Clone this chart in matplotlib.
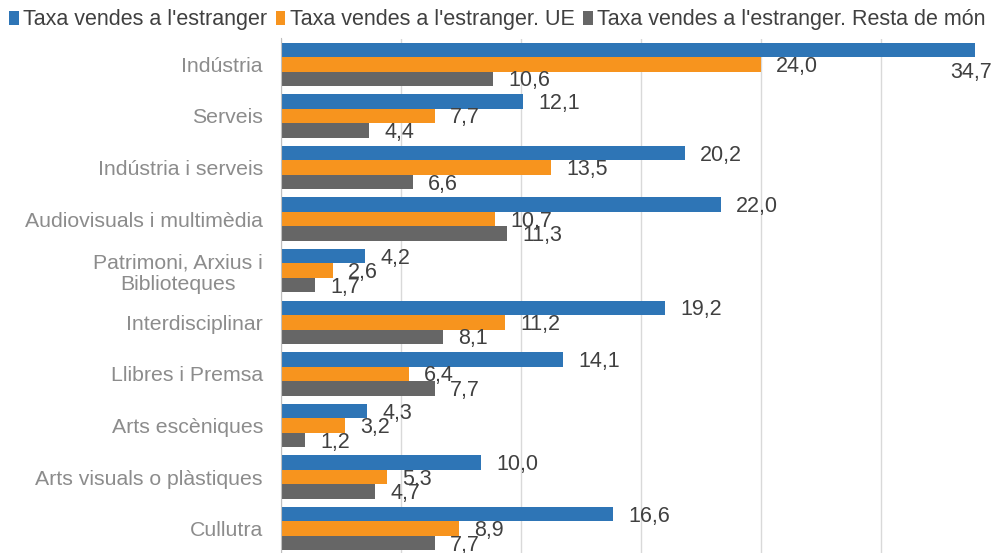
import matplotlib
matplotlib.use("Agg")
import matplotlib.pyplot as plt
from matplotlib.patches import Patch
import numpy as np

categories = ["Indústria", "Serveis", "Indústria i serveis", "Audiovisuals i multimèdia",
              "Patrimoni, Arxius i\nBiblioteques", "Interdisciplinar", "Llibres i Premsa",
              "Arts escèniques", "Arts visuals o plàstiques", "Cullutra"]
series_names = ["Taxa vendes a l'estranger", "Taxa vendes a l'estranger. UE",
                "Taxa vendes a l'estranger. Resta de món"]
total = [34.7, 12.1, 20.2, 22.0, 4.2, 19.2, 14.1, 4.3, 10.0, 16.6]
ue = [24.0, 7.7, 13.5, 10.7, 2.6, 11.2, 6.4, 3.2, 5.3, 8.9]
resta = [10.6, 4.4, 6.6, 11.3, 1.7, 8.1, 7.7, 1.2, 4.7, 7.7]
colors = ["#2E75B6", "#F7941E", "#666666"]

plt.rcParams['font.family'] = ['Liberation Sans', 'DejaVu Sans']
fs = 15.5
fs_cat = 15.3

fig = plt.figure(figsize=(9.92, 5.53), dpi=100)
W, H = 992, 553
ax = fig.add_axes([281 / W, (H - 554.5) / H, 720 / W, 516 / H])

y = np.arange(len(categories))
bh = 0.28
vmax = max(total)
for k, (vals, c) in enumerate(zip([total, ue, resta], colors)):
    yy = y + (k - 1) * bh
    ax.barh(yy, vals, height=bh, color=c, zorder=3)
    for yi, v in zip(yy, vals):
        lab = f"{v:.1f}".replace(".", ",")
        if v >= vmax:
            ax.annotate(lab, (v, yi), xytext=(12.5, -16), textcoords="offset points",
                        ha="right", va="center", fontsize=fs, color="#404040",
                        annotation_clip=False)
        else:
            ax.annotate(lab, (v, yi), xytext=(11.0, -1.5), textcoords="offset points",
                        ha="left", va="center", fontsize=fs, color="#404040",
                        annotation_clip=False)

ax.set_xlim(0, 36)
ax.set_ylim(len(categories) - 0.5, -0.5)
ax.set_xticks(np.arange(0, 37, 6))
ax.set_xticklabels([])
ax.tick_params(axis="x", length=0)
ax.grid(axis="x", color="#D9D9D9", linewidth=1, zorder=0)
ax.set_yticks(y)
ax.set_yticklabels(categories, fontsize=fs_cat, color="#8C8C8C", linespacing=1.15)
ax.tick_params(axis="y", length=0)
for lbl in ax.get_yticklabels():
    lbl.set_horizontalalignment("right")
    lbl.set_multialignment("center")
for s in ["top", "right", "bottom"]:
    ax.spines[s].set_visible(False)
ax.spines["left"].set_color("#BFBFBF")
ax.spines["left"].set_zorder(4)
ax.yaxis.set_tick_params(pad=13)

handles = [Patch(facecolor=c, edgecolor="none") for c in colors]
fig.legend(handles, series_names, loc="center left", bbox_to_anchor=(9 / W, 1 - 20 / H),
           ncol=3, frameon=False, fontsize=fs, handlelength=0.45, handleheight=0.6,
           handletextpad=0.2, columnspacing=0.4, borderpad=0, borderaxespad=0,
           labelcolor="#404040")

fig.savefig("out.png", dpi=100)
